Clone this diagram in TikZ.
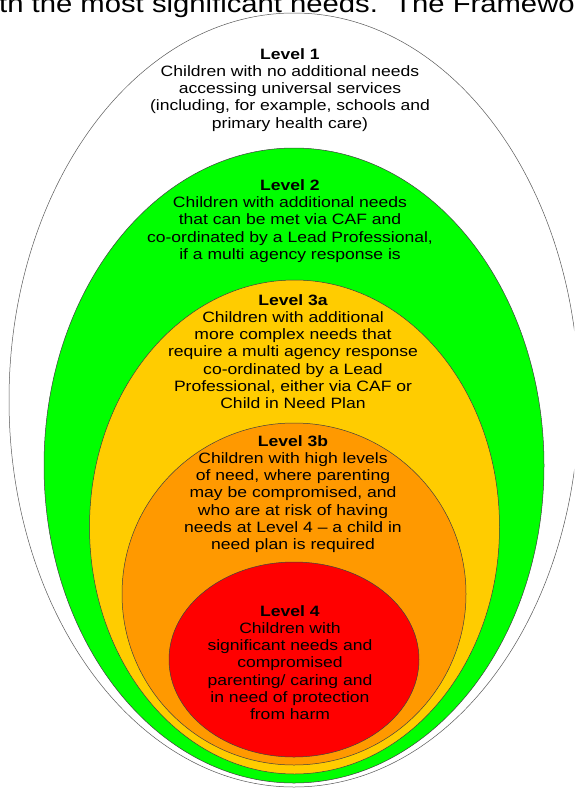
\documentclass[tikz,border=0pt]{standalone}
\usepackage{fontspec}
\setmainfont{Liberation Sans}
\newfontfamily\lvlfont[FakeStretch=1.17]{Liberation Sans}
\usetikzlibrary{positioning}
\definecolor{needgreen}{HTML}{00FF00}
\definecolor{needyellow}{HTML}{FFCC00}
\definecolor{needorange}{HTML}{FF9900}
\definecolor{needred}{HTML}{FF0000}

\begin{document}
\begin{tikzpicture}[x=1pt,y=-1pt,
  ring/.style={draw=black!75, line width=0.5pt},
  lvl/.style={align=center, anchor=base, inner sep=0pt,
    font=\lvlfont\fontsize{15}{17.3}\selectfont}]
\useasboundingbox (0,0) rectangle (574,789);
\clip (0,0) rectangle (574,789);

% line of the page above, cut off
\node[anchor=base west, inner sep=0pt, font=\lvlfont\fontsize{25}{30}\selectfont] (head) at (-1,13) {th the most significant needs.\ \ The Framewo};

% nested levels, outer to inner
\filldraw[ring, draw=black!65, fill=white] (294,400) ellipse [x radius=285pt, y radius=387pt];
\filldraw[ring, fill=needgreen] (294,465.5) ellipse [x radius=250pt, y radius=317.5pt];
\filldraw[ring, fill=needyellow] (294.5,527) ellipse [x radius=205pt, y radius=247pt];
\filldraw[ring, fill=needorange] (294,594) ellipse [x radius=172pt, y radius=171pt];
\filldraw[ring, fill=needred] (294,659.5) ellipse [x radius=125pt, y radius=97.5pt];

% texts, placed at the baseline of their last line
\node[lvl] (lone) at (290,128.2) {\textbf{Level 1}\\Children with no additional needs\\accessing universal services\\(including, for example, schools and\\primary health care)};
\node[lvl] (ltwo) at (290,259.5) {\textbf{Level 2}\\Children with additional needs\\that can be met via CAF and\\co-ordinated by a Lead Professional,\\if a multi agency response is};
\node[lvl] (lthreea) at (293,408.8) {\textbf{Level 3a}\\Children with additional\\more complex needs that\\require a multi agency response\\co-ordinated by a Lead\\Professional, either via CAF or\\Child in Need Plan};
\node[lvl] (lthreeb) at (293,549.8) {\textbf{Level 3b}\\Children with high levels\\of need, where parenting\\may be compromised, and\\who are at risk of having\\needs at Level 4 – a child in\\need plan is required};
\node[lvl] (lfour) at (290,719.8) {\textbf{Level 4}\\Children with\\significant needs and\\compromised\\parenting/ caring and\\in need of protection\\from harm};
\end{tikzpicture}
\end{document}
